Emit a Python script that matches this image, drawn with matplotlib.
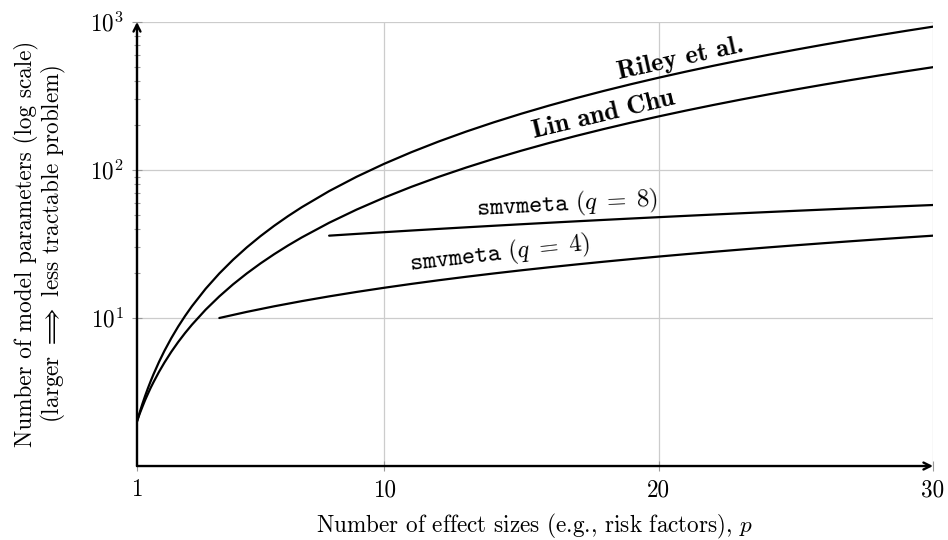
import numpy as np
import matplotlib
matplotlib.use("Agg")
import matplotlib.pyplot as plt
from matplotlib.ticker import FixedLocator, NullFormatter

plt.rcParams['font.family'] = ['cmr10', 'DejaVu Serif']
plt.rcParams['mathtext.fontset'] = 'cm'
plt.rcParams['axes.formatter.use_mathtext'] = True
plt.rcParams['axes.unicode_minus'] = False

# number of effect sizes p
p_full = [1, 1.1, 1.2, 1.3, 1.4, 1.5, 1.6, 1.8, 2, 2.25, 2.5, 2.75, 3, 3.5, 4, 4.5,
          5, 5.5, 6, 6.5, 7, 8, 9, 10, 11, 12, 13, 14, 15, 16, 17, 18, 19, 20, 21,
          22, 23, 24, 25, 26, 27, 28, 29, 30]
riley = [2, 2.31, 2.64, 2.99, 3.36, 3.75, 4.16, 5.04, 6, 7.31, 8.75, 10.31, 12,
         15.75, 20, 24.75, 30, 35.75, 42, 48.75, 56, 72, 90, 110, 132, 156, 182,
         210, 240, 272, 306, 342, 380, 420, 462, 506, 552, 600, 650, 702, 756, 812,
         870, 930]
lin_chu = [2, 2.26, 2.52, 2.8, 3.08, 3.38, 3.68, 4.32, 5, 5.91, 6.88, 7.91, 9,
           11.38, 14, 16.88, 20, 23.38, 27, 30.88, 35, 44, 54, 65, 77, 90, 104, 119,
           135, 152, 170, 189, 209, 230, 252, 275, 299, 324, 350, 377, 405, 434, 464,
           495]
p_q8 = [8, 9, 10, 11, 12, 13, 14, 15, 16, 17, 18, 19, 20, 21, 22, 23, 24, 25, 26,
        27, 28, 29, 30]
smv_q8 = [36, 37, 38, 39, 40, 41, 42, 43, 44, 45, 46, 47, 48, 49, 50, 51, 52, 53,
          54, 55, 56, 57, 58]
p_q4 = [4, 5, 6, 7, 8, 9, 10, 11, 12, 13, 14, 15, 16, 17, 18, 19, 20, 21, 22, 23,
        24, 25, 26, 27, 28, 29, 30]
smv_q4 = [10, 11, 12, 13, 14, 15, 16, 17, 18, 19, 20, 21, 22, 23, 24, 25, 26, 27,
          28, 29, 30, 31, 32, 33, 34, 35, 36]

x_ticks = [1, 10, 20, 30]

fig = plt.figure(figsize=(9.48, 5.4), dpi=100)
ax = fig.add_axes([0.1445, 0.137, 0.8397, 0.8223])

for xs, ys in [(p_full, riley), (p_full, lin_chu), (p_q8, smv_q8), (p_q4, smv_q4)]:
    ax.plot(xs, ys, color='black', lw=1.6, solid_capstyle='round', zorder=3)

ax.set_yscale('log')
ax.set_xlim(1, 30)
ax.set_ylim(1, 1000)
ax.set_xticks(x_ticks)
ax.set_xticklabels([str(t) for t in x_ticks])
ax.yaxis.set_major_locator(FixedLocator([10, 100, 1000]))
minors = [m * d for d in (10, 100) for m in range(2, 10)]
ax.yaxis.set_minor_locator(FixedLocator(minors))
ax.yaxis.set_minor_formatter(NullFormatter())
ax.xaxis.set_minor_locator(FixedLocator([]))

ax.grid(True, which='major', color='#cccccc', lw=0.9, zorder=0)
ax.tick_params(which='major', direction='inout', length=7, width=0.8,
               color='#999999', labelsize=16.7, pad=6)
ax.tick_params(which='minor', direction='inout', length=5, width=0.8,
               color='#999999')

for s in ax.spines.values():
    s.set_visible(False)

arrow = dict(arrowstyle='->,head_length=0.5,head_width=0.25', color='black', lw=1.7,
             shrinkA=0, shrinkB=0)
ax.annotate('', xy=(1.0, 0), xytext=(0, 0), xycoords='axes fraction',
            textcoords='axes fraction', arrowprops=arrow, zorder=4)
ax.annotate('', xy=(0, 1.0), xytext=(0, 0), xycoords='axes fraction',
            textcoords='axes fraction', arrowprops=arrow, zorder=4)

ax.set_xlabel('Number of effect sizes (e.g., risk factors), $p$', fontsize=16.7, labelpad=8)
ax.set_ylabel('Number of model parameters (log scale)\n'
              r'(larger $\Longrightarrow$ less tractable problem)',
              fontsize=16.7, labelpad=16, linespacing=1.0)


def label_on_curve(xs, ys, x0, txt, gap=4, **kw):
    # put text just above the curve, rotated along it
    ly = np.log10(ys)
    pa = ax.transData.transform((x0 - 0.3, 10 ** np.interp(x0 - 0.3, xs, ly)))
    pb = ax.transData.transform((x0 + 0.3, 10 ** np.interp(x0 + 0.3, xs, ly)))
    p0 = ax.transData.transform((x0, 10 ** np.interp(x0, xs, ly)))
    ang = np.arctan2(pb[1] - pa[1], pb[0] - pa[0])
    normal = np.array([-np.sin(ang), np.cos(ang)])
    xd, yd = ax.transData.inverted().transform(p0 + gap * normal)
    ax.text(xd, yd, txt, rotation=np.degrees(ang), rotation_mode='anchor',
            ha='center', va='bottom', zorder=5, **kw)


label_on_curve(p_full, riley, 20.9, 'Riley et al.', gap=2, family='cmb10', fontsize=19)
label_on_curve(p_full, lin_chu, 18.1, 'Lin and Chu', gap=3, family='cmb10', fontsize=19)
label_on_curve(p_q8, smv_q8, 16.7, r'$\mathtt{smvmeta}\ (q\;=\;8)$', gap=3, fontsize=18)
label_on_curve(p_q4, smv_q4, 14.3, r'$\mathtt{smvmeta}\ (q\;=\;4)$', gap=4, fontsize=18)

fig.savefig('out.png', dpi=100)
